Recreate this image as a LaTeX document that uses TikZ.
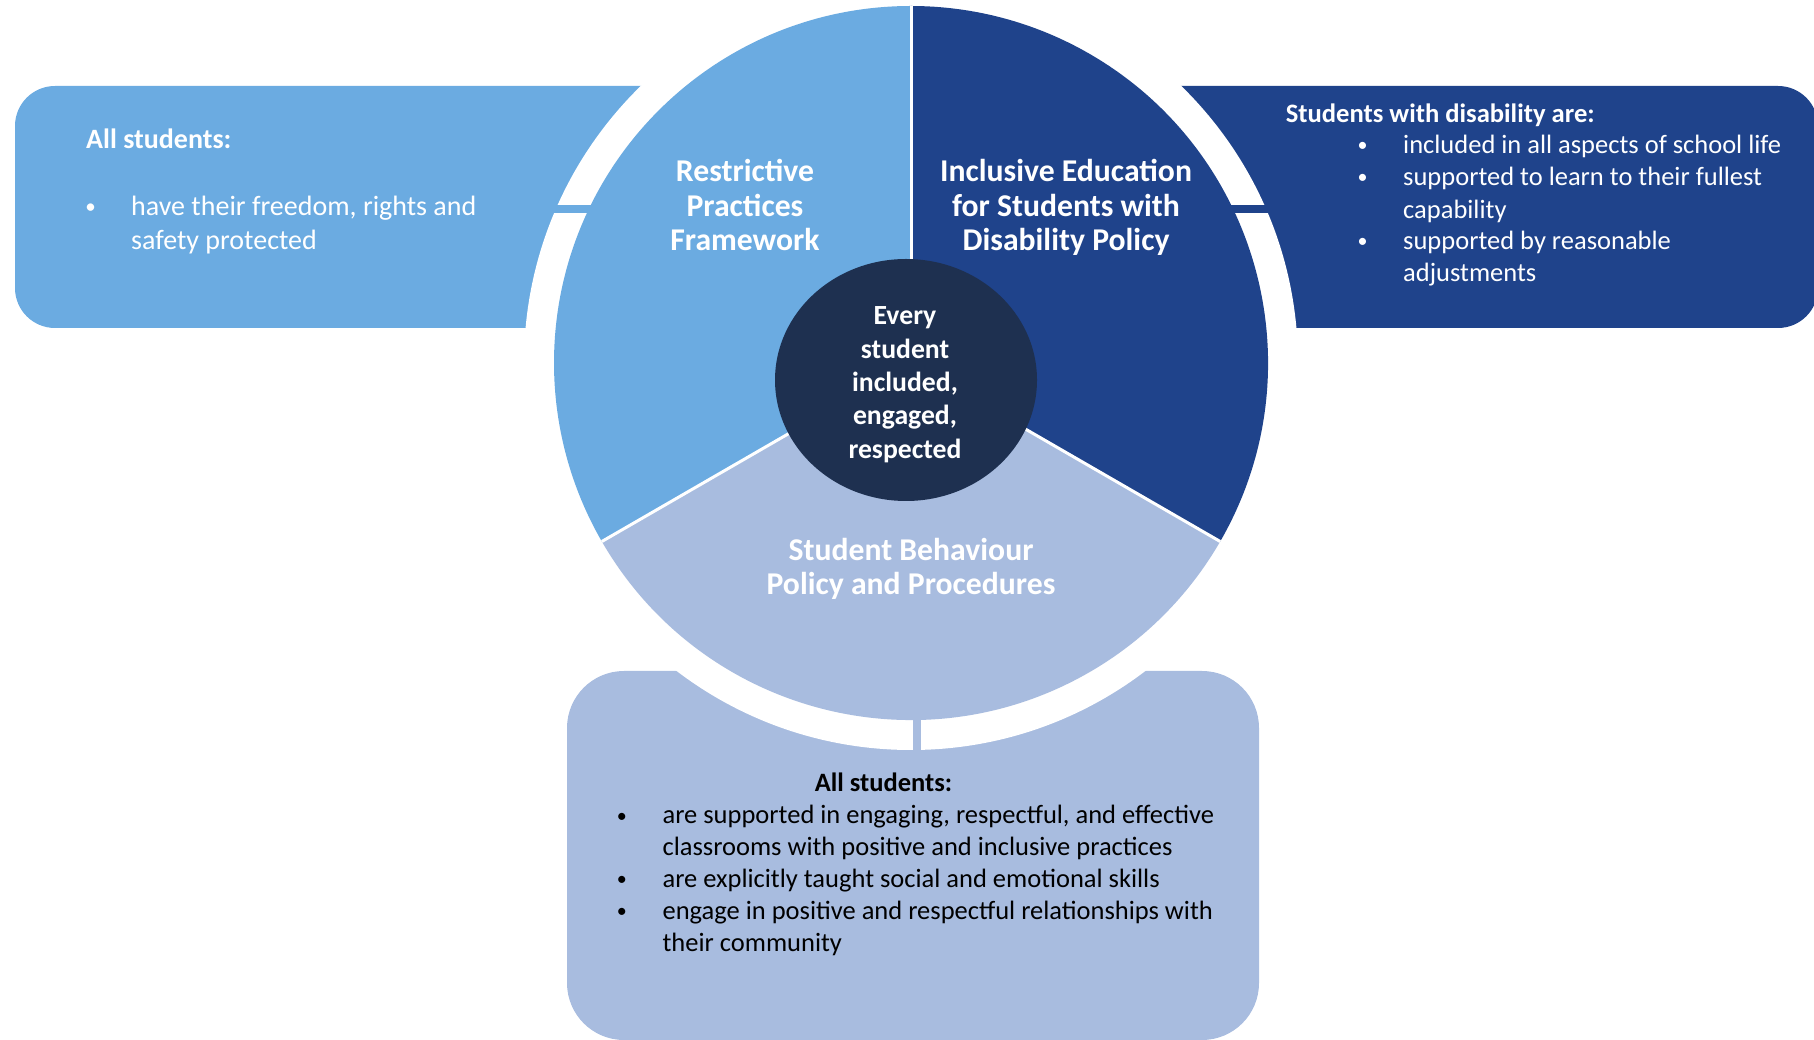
\documentclass[tikz,border=0pt]{standalone}
\usepackage{fontspec}
\setmainfont{Carlito}
\definecolor{lblue}{HTML}{6BABE1}
\definecolor{dblue}{HTML}{1F438B}
\definecolor{pblue}{HTML}{A8BCDF}
\definecolor{navy}{HTML}{1E3050}
\begin{document}
\begin{tikzpicture}[x=1pt,y=1pt,
  seclbl/.style={font=\bfseries\fontsize{31.7}{34}\selectfont, text=white, inner sep=0pt, anchor=base},
  ctrlbl/.style={font=\bfseries\fontsize{27.7}{33}\selectfont, text=white, inner sep=0pt, anchor=base},
  lhead/.style={font=\bfseries\fontsize{28}{33}\selectfont, text=white, inner sep=0pt, anchor=base west},
  ltxt/.style={font=\fontsize{28}{33}\selectfont, text=white, inner sep=0pt, anchor=base west},
  lbul/.style={font=\fontsize{21}{33}\selectfont, text=white, inner sep=0pt, anchor=base},
  rhead/.style={font=\bfseries\fontsize{26.6}{32}\selectfont, text=white, inner sep=0pt, anchor=base west},
  rtxt/.style={font=\fontsize{26.5}{32}\selectfont, text=white, inner sep=0pt, anchor=base west},
  rbul/.style={font=\fontsize{20}{32}\selectfont, text=white, inner sep=0pt, anchor=base},
  bhead/.style={font=\bfseries\fontsize{26.5}{32}\selectfont, text=black, inner sep=0pt, anchor=base west},
  btxt/.style={font=\fontsize{26.5}{32}\selectfont, text=black, inner sep=0pt, anchor=base west},
  bbul/.style={font=\fontsize{20}{32}\selectfont, text=black, inner sep=0pt, anchor=base},
  sepline/.style={white, line width=3pt}
]
\useasboundingbox (0,0) rectangle (1814,1039);
\coordinate (C) at (911,676);
% boxes
\fill[lblue, rounded corners=40pt] (15,953) rectangle (911,711);
\fill[dblue, rounded corners=40pt] (911,953) rectangle (1818,711);
\fill[pblue, rounded corners=57pt] (567,368) rectangle (1259,-1);
% white gap ring
\fill[white] (C) circle[radius=387];
% connector bars
\fill[lblue] (500,826) rectangle (700,834);
\fill[dblue] (1120,826) rectangle (1320,834);
\fill[pblue] (913,250) rectangle (921,380);
% pie sectors
\fill[lblue] (C) -- ++(90:357) arc[start angle=90, end angle=210, radius=357] -- cycle;
\fill[dblue] (C) -- ++(-30:357) arc[start angle=-30, end angle=90, radius=357] -- cycle;
\fill[pblue] (C) -- ++(210:357) arc[start angle=210, end angle=330, radius=357] -- cycle;
\draw[sepline] (C) -- ++(90:357);
\draw[sepline] (C) -- ++(210:357);
\draw[sepline] (C) -- ++(330:357);
% centre
\fill[navy] (906,659) ellipse[x radius=131, y radius=121];
% sector labels
\node[seclbl] (rp1) at (745,857) {Restrictive};
\node[seclbl] (rp2) at (745,822.5) {Practices};
\node[seclbl] (rp3) at (745,788) {Framework};
\node[seclbl] (ie1) at (1066,857) {Inclusive Education};
\node[seclbl] (ie2) at (1066,822.5) {for Students with};
\node[seclbl] (ie3) at (1066,788) {Disability Policy};
\node[seclbl] (sb1) at (911,478) {Student Behaviour};
\node[seclbl] (sb2) at (911,444.5) {Policy and Procedures};
% centre text
\node[ctrlbl] (c1) at (905,714) {Every};
\node[ctrlbl] (c2) at (905,680.7) {student};
\node[ctrlbl] (c3) at (905,647.3) {included,};
\node[ctrlbl] (c4) at (905,614) {engaged,};
\node[ctrlbl] (c5) at (905,580) {respected};
% left box
\node[lhead] (lh) at (86,890.7) {All students:};
\node[lbul] (lb1) at (90.6,825) {•};
\node[ltxt] (lt1) at (131,823) {have their freedom, rights and};
\node[ltxt] (lt2) at (131,789.7) {safety protected};
% right box
\node[rhead] (rh) at (1285.6,916.7) {Students with disability are:};
\node[rbul] (rb1) at (1362.7,887) {•};
\node[rbul] (rb2) at (1362.7,855) {•};
\node[rbul] (rb3) at (1362.7,791) {•};
\node[rtxt] (rt1) at (1403,885) {included in all aspects of school life};
\node[rtxt] (rt2) at (1403,853) {supported to learn to their fullest};
\node[rtxt] (rt3) at (1403,820.7) {capability};
\node[rtxt] (rt4) at (1403,789) {supported by reasonable};
\node[rtxt] (rt5) at (1403,757.3) {adjustments};
% bottom box
\node[bhead] (bh) at (814.6,247.3) {All students:};
\node[bbul] (bb1) at (621.8,217) {•};
\node[bbul] (bb2) at (621.8,153.7) {•};
\node[bbul] (bb3) at (621.8,121.7) {•};
\node[btxt] (bt1) at (662.4,215) {are supported in engaging, respectful, and effective};
\node[btxt] (bt2) at (662.4,184) {classrooms with positive and inclusive practices};
\node[btxt] (bt3) at (662.4,151.7) {are explicitly taught social and emotional skills};
\node[btxt] (bt4) at (662.4,119.7) {engage in positive and respectful relationships with};
\node[btxt] (bt5) at (662.4,88) {their community};
\end{tikzpicture}
\end{document}
